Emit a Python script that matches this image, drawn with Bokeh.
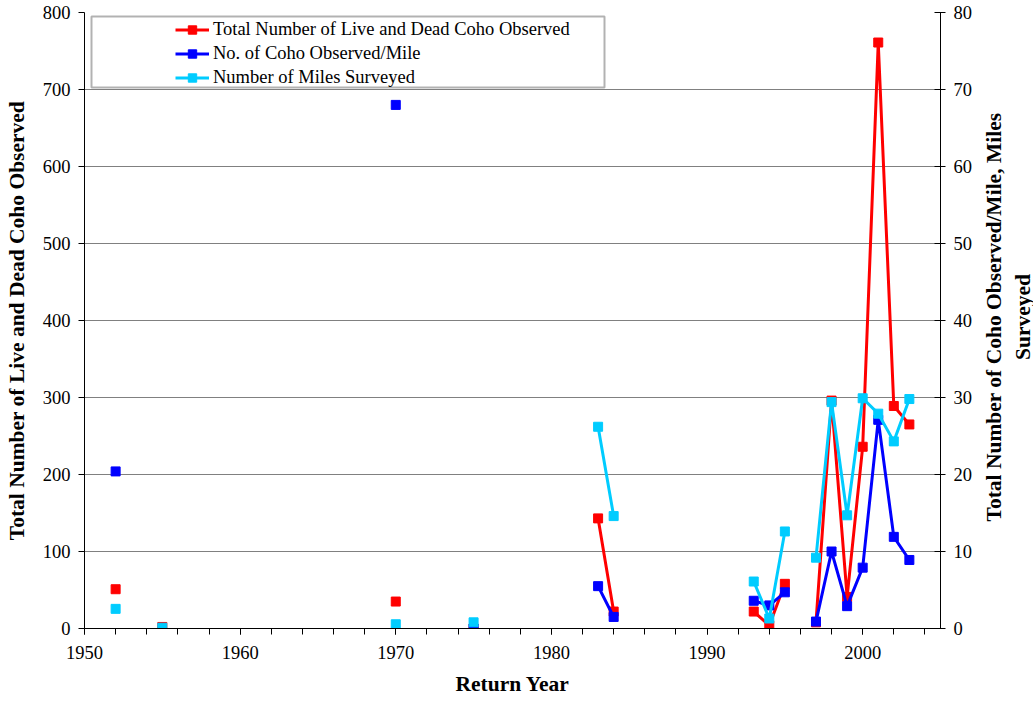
import math
from bokeh.plotting import figure
from bokeh.layouts import row
from bokeh.models import (Range1d, LinearAxis, SingleIntervalTicker, Legend, LegendItem,
                          Label, BoxAnnotation)
from bokeh.embed import file_html
from bokeh.resources import INLINE

# ---- data ----
years = [1952, 1955, 1970, 1975, 1983, 1984, 1993, 1994, 1995, 1997, 1998, 1999, 2000, 2001, 2002, 2003]
total_coho = [51, 2, 35, 0, 143, 22, 22, 4, 58, 8, 296, 41, 236, 761, 289, 265]
coho_per_mile = [20.4, float("nan"), 68, 0, 5.5, 1.5, 3.6, 3.0, 4.7, 0.9, 10.0, 2.9, 7.9, 27.1, 11.9, 8.9]
miles_surveyed = [2.55, 0.1, 0.55, 0.8, 26.2, 14.6, 6.1, 1.3, 12.6, 9.2, 29.4, 14.7, 29.9, 27.9, 24.3, 29.8]

series_names = ["Total Number of Live and Dead Coho Observed",
                "No. of Coho Observed/Mile",
                "Number of Miles Surveyed"]
left_title = "Total Number of Live and Dead Coho Observed"
right_title_lines = ["Total Number of Coho Observed/Mile, Miles", "Surveyed"]
x_title = "Return Year"

FONT = "Liberation Serif"
TICK_FS = "18.5px"
TITLE_FS = "21.5px"

X0, X1 = 1950, 2005
Y0, Y1 = 0, 800
R0, R1 = 0, 80

W, H = 1033, 704
FL, FR, FT, FB = 84, 40, 12, 76
FW, FH = 856, 616
SIDE_W = W - (FL + FW + FR)

p = figure(frame_width=FW, frame_height=FH, min_border_left=FL, min_border_right=FR,
           min_border_top=FT, min_border_bottom=FB,
           x_range=Range1d(X0, X1), y_range=Range1d(Y0, Y1),
           output_backend="svg", toolbar_location=None, background_fill_color="white",
           border_fill_color="white")
p.outline_line_color = None
p.extra_y_ranges = {"right": Range1d(R0, R1)}

# grid
p.xgrid.grid_line_color = None
p.ygrid.grid_line_color = "#808080"
p.ygrid.grid_line_width = 1


def style_axis(ax):
    ax.axis_line_color = "black"
    ax.axis_line_width = 1
    ax.major_tick_line_color = "black"
    ax.minor_tick_line_color = "black"
    ax.major_label_text_font = FONT
    ax.major_label_text_font_size = TICK_FS
    ax.major_label_text_color = "black"
    ax.axis_label_text_font = FONT
    ax.axis_label_text_font_size = TITLE_FS
    ax.axis_label_text_font_style = "bold"
    ax.axis_label_text_color = "black"


# x axis
xa = p.xaxis[0]
xa.ticker = SingleIntervalTicker(interval=10, num_minor_ticks=5)
xa.axis_label = x_title
style_axis(xa)
xa.major_tick_out = 6
xa.major_tick_in = 0
xa.minor_tick_out = 6
xa.minor_tick_in = 0
xa.major_label_standoff = 11
xa.axis_label_standoff = 10

ya = p.yaxis[0]
style_axis(ya)
ya.ticker = SingleIntervalTicker(interval=100, num_minor_ticks=0)
ya.axis_label = left_title
ya.major_tick_out = 6
ya.major_tick_in = 0
ya.minor_tick_line_color = None
ya.major_label_standoff = 8
ya.axis_label_standoff = 11

ra = LinearAxis(y_range_name="right", ticker=SingleIntervalTicker(interval=10, num_minor_ticks=0))
style_axis(ra)
ra.major_tick_out = 5
ra.major_tick_in = 6
ra.minor_tick_line_color = None
ra.major_label_standoff = 8
p.add_layout(ra, "right")


# split into runs of consecutive years for the lines
def broken(xs, ys):
    ox, oy = [], []
    for i, (x, y) in enumerate(zip(xs, ys)):
        if i > 0 and x - xs[i - 1] > 1:
            ox.append(float("nan"))
            oy.append(float("nan"))
        ox.append(x)
        oy.append(y)
    return ox, oy


colors = ["#FF0000", "#0000FF", "#00CCFF"]
data = [total_coho, coho_per_mile, miles_surveyed]
ranges = ["default", "right", "right"]
items = []
for name, col, vals, rn in zip(series_names, colors, data, ranges):
    lx, ly = broken(years, vals)
    r1 = p.line(lx, ly, line_color=col, line_width=3, y_range_name=rn)
    r2 = p.scatter(years, vals, marker="square", size=9, fill_color=col, line_color=col,
                   y_range_name=rn)
    items.append(LegendItem(label=name, renderers=[r1, r2]))


# legend box (frame pixels -> data coords)
def px_to_x(px):
    return X0 + (px - FL) / FW * (X1 - X0)


def py_to_y(py):
    return Y0 + (FT + FH - py) / FH * (Y1 - Y0)


box = BoxAnnotation(left=px_to_x(91), right=px_to_x(604), top=py_to_y(16), bottom=py_to_y(87),
                    fill_color="white", fill_alpha=1, line_color="black", line_width=2)
p.add_layout(box)

legend = Legend(items=items, location=(175 - FL, FT + FH - 88), orientation="vertical",
                padding=0, spacing=3, glyph_width=34, glyph_height=21, label_height=21,
                label_standoff=4, border_line_alpha=0, background_fill_alpha=0,
                label_text_font=FONT, label_text_font_size=TICK_FS, label_text_color="black")
p.add_layout(legend)

# side strip holding the two-line right-axis title (reads bottom to top)
side = figure(width=SIDE_W, height=H, x_range=Range1d(0, SIDE_W), y_range=Range1d(0, H),
              min_border=0, output_backend="svg", toolbar_location=None,
              background_fill_color="white", border_fill_color="white")
side.outline_line_color = None
side.axis.visible = False
side.grid.visible = False
title_x = [993 - (W - SIDE_W), 1022 - (W - SIDE_W)]
title_y = H - (FT + FH / 2) - 28
for tx, line in zip(title_x, right_title_lines):
    side.add_layout(Label(x=tx, y=title_y, text=line, angle=math.pi / 2,
                          text_align="center", text_baseline="middle", text_font=FONT,
                          text_font_size=TITLE_FS, text_font_style="bold", text_color="black"))

layout = row(p, side, spacing=0)
open("out.html", "w").write(file_html(layout, INLINE))
